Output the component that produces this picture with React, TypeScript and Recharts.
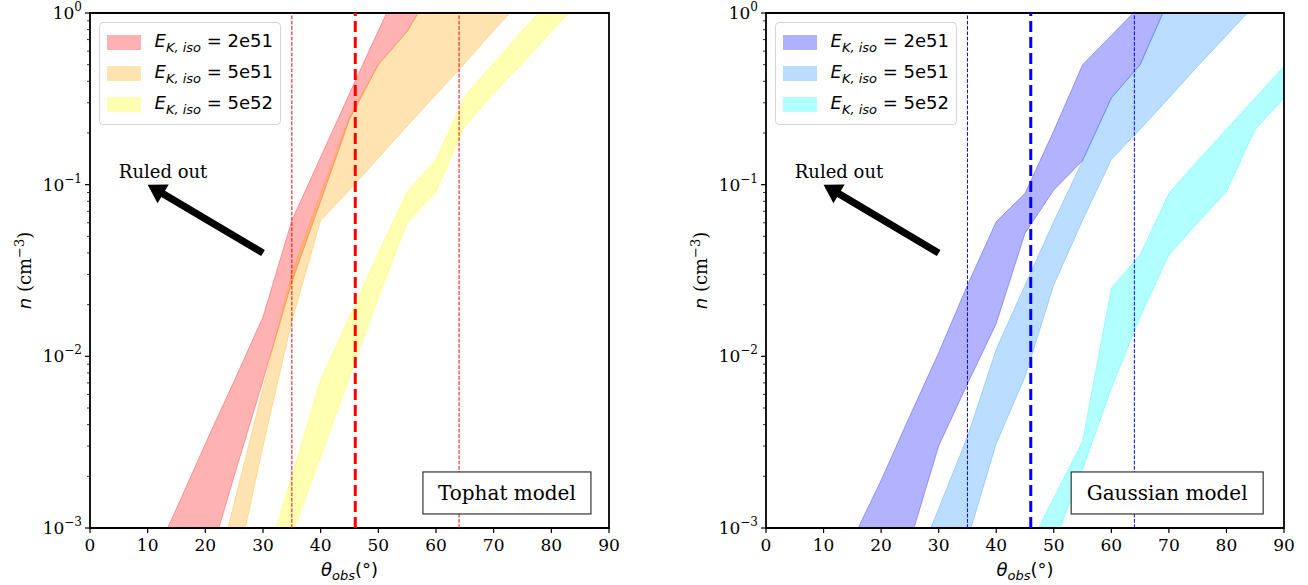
import React from "react";
import { ComposedChart, Area, XAxis, YAxis, ReferenceLine, ReferenceArea, ReferenceDot, Legend } from "recharts";

// energies shown in legend
const energyLabels = ["2e51", "5e51", "5e52"];

// axes
const xTicks = [0, 10, 20, 30, 40, 50, 60, 70, 80, 90];
const yMajorTicks = [0.001, 0.01, 0.1, 1];
const yMinorTicks = [
  0.002, 0.003, 0.004, 0.005, 0.006, 0.007, 0.008, 0.009,
  0.02, 0.03, 0.04, 0.05, 0.06, 0.07, 0.08, 0.09,
  0.2, 0.3, 0.4, 0.5, 0.6, 0.7, 0.8, 0.9,
];

// viewing angle constraints (deg)
const thetaLimits = [35, 64];
const thetaBest = 46;

// "Ruled out" arrow (theta, n)
const arrowTail = { theta: 30, n: 0.04 };
const arrowHead = { theta: 10, n: 0.1 };
const ruledOutAt = { theta: 5, n: 0.11 };

// ---- Tophat model ----
const tophatRedTheta = [10, 15, 20, 25, 30, 35, 40, 45, 50, 55, 60];
const tophatRedLow = [0.00004, 0.00015, 0.00054, 0.002, 0.0072, 0.027, 0.08, 0.24, 0.5, 0.78, 1.5];
const tophatRedHigh = [0.00056, 0.0013, 0.0031, 0.0072, 0.017, 0.062, 0.145, 0.34, 0.79, 1.8, 4];

const tophatOrangeTheta = [20, 25, 30, 35, 40, 45, 50, 55, 60, 65, 70, 75];
const tophatOrangeLow = [0.00009, 0.0005, 0.003, 0.016, 0.062, 0.093, 0.143, 0.22, 0.335, 0.51, 0.79, 1.2];
const tophatOrangeHigh = [0.0003, 0.0014, 0.0065, 0.031, 0.089, 0.25, 0.5, 0.78, 1.5, 3, 5, 8];

const tophatYellowTheta = [30, 35, 40, 45, 50, 55, 60, 65, 70, 75, 80, 85];
const tophatYellowLow = [0.0003, 0.0009, 0.0026, 0.0076, 0.022, 0.06, 0.091, 0.22, 0.34, 0.51, 0.78, 1.17];
const tophatYellowHigh = [0.00057, 0.002, 0.0073, 0.017, 0.04, 0.091, 0.14, 0.33, 0.51, 0.79, 1.2, 1.9];

// ---- Gaussian model ----
const gaussBlueTheta = [15, 20, 25, 30, 35, 40, 45, 50, 55, 60, 65, 70];
const gaussBlueLow = [0.00005, 0.0002, 0.00083, 0.003, 0.0069, 0.0155, 0.052, 0.093, 0.138, 0.32, 0.5, 1.2];
const gaussBlueHigh = [0.00085, 0.0019, 0.0045, 0.0105, 0.026, 0.061, 0.089, 0.206, 0.5, 0.74, 1.1, 2];

const gaussSkyTheta = [25, 30, 35, 40, 45, 50, 55, 60, 65, 70, 75, 80, 85];
const gaussSkyLow = [0.00008, 0.00025, 0.00085, 0.0031, 0.0076, 0.026, 0.062, 0.14, 0.21, 0.32, 0.49, 0.74, 1.12];
const gaussSkyHigh = [0.0005, 0.0013, 0.0034, 0.011, 0.026, 0.061, 0.138, 0.32, 0.5, 1.2, 2, 3, 5];

const gaussCyanTheta = [45, 50, 55, 60, 65, 70, 75, 80, 85, 90];
const gaussCyanLow = [0.0003, 0.0008, 0.0022, 0.0065, 0.017, 0.039, 0.06, 0.091, 0.21, 0.32];
const gaussCyanHigh = [0.0007, 0.0015, 0.0032, 0.025, 0.039, 0.089, 0.138, 0.21, 0.32, 0.49];

type Band = { theta: number[]; low: number[]; high: number[]; color: string };

const tophatBands: Band[] = [
  { theta: tophatRedTheta, low: tophatRedLow, high: tophatRedHigh, color: "#ff0000" },
  { theta: tophatOrangeTheta, low: tophatOrangeLow, high: tophatOrangeHigh, color: "#ffa500" },
  { theta: tophatYellowTheta, low: tophatYellowLow, high: tophatYellowHigh, color: "#ffff00" },
];
const gaussBands: Band[] = [
  { theta: gaussBlueTheta, low: gaussBlueLow, high: gaussBlueHigh, color: "#0000ff" },
  { theta: gaussSkyTheta, low: gaussSkyLow, high: gaussSkyHigh, color: "#1e90ff" },
  { theta: gaussCyanTheta, low: gaussCyanLow, high: gaussCyanHigh, color: "#00ffff" },
];

const toRows = (b: Band) => b.theta.map((t, i) => ({ theta: t, range: [b.low[i], b.high[i]] }));

const SERIF = "DejaVu Serif";
const SANS = "DejaVu Sans";

function XTick(props: any) {
  const { x, y, payload } = props;
  return (
    <g>
      <line x1={x} x2={x} y1={y} y2={y + 5} stroke="#000" strokeWidth={1.2} />
      <text x={x} y={y + 23} textAnchor="middle" fontFamily={SERIF} fontSize={17} fill="#000">
        {payload.value}
      </text>
    </g>
  );
}

function YTick(props: any) {
  const { x, y, payload } = props;
  const v = payload.value;
  const major = yMajorTicks.includes(v);
  const exp = Math.round(Math.log10(v));
  return (
    <g>
      <line x1={x - (major ? 5 : 3)} x2={x} y1={y} y2={y} stroke="#000" strokeWidth={major ? 1.2 : 0.8} />
      {major && (
        <text x={x - 8} y={y + 6} textAnchor="end" fontFamily={SERIF} fontSize={17} fill="#000">
          10
          <tspan dy={-8} fontSize={12}>{exp === 0 ? "0" : "\u2212" + -exp}</tspan>
        </text>
      )}
    </g>
  );
}

function XLabel(props: any) {
  const { x, y, width } = props.viewBox;
  return (
    <text x={x + width / 2} y={y + 48} textAnchor="middle" fontSize={18} fill="#000" fontFamily={SANS}>
      <tspan fontStyle="italic">θ</tspan>
      <tspan fontStyle="italic" fontSize={13} dy={4}>obs</tspan>
      <tspan dy={-4}>(°)</tspan>
    </text>
  );
}

function YLabel(props: any) {
  const { x, y, height } = props.viewBox;
  const cx = x + 31;
  const cy = y + height / 2;
  return (
    <text x={cx} y={cy} transform={`rotate(-90, ${cx}, ${cy})`} textAnchor="middle" fontSize={18} fill="#000">
      <tspan fontFamily={SANS} fontStyle="italic">n</tspan>
      <tspan fontFamily={SERIF}> (cm</tspan>
      <tspan fontFamily={SERIF} fontSize={13} dy={-7}>{"\u22123"}</tspan>
      <tspan fontFamily={SERIF} dy={7}>)</tspan>
    </text>
  );
}

function ArrowShape(props: any) {
  const { x1, y1, x2, y2 } = props;
  const dx = x2 - x1;
  const dy = y2 - y1;
  const len = Math.sqrt(dx * dx + dy * dy);
  const ux = dx / len;
  const uy = dy / len;
  const px = -uy;
  const py = ux;
  const shaft = 3.6;
  const headW = 11;
  const headL = 18;
  const bx = x2 - ux * headL;
  const by = y2 - uy * headL;
  const pts = [
    [x1 + px * shaft, y1 + py * shaft],
    [bx + px * shaft, by + py * shaft],
    [bx + px * headW, by + py * headW],
    [x2, y2],
    [bx - px * headW, by - py * headW],
    [bx - px * shaft, by - py * shaft],
    [x1 - px * shaft, y1 - py * shaft],
  ];
  return <polygon points={pts.map((p) => p.join(",")).join(" ")} fill="#000" />;
}

function RuledOut(props: any) {
  return (
    <text x={props.cx} y={props.cy} fontFamily={SERIF} fontSize={18} fill="#000">
      Ruled out
    </text>
  );
}

function makeModelBox(label: string, w: number) {
  return (props: any) => {
    const { cx, cy } = props;
    return (
      <g>
        <rect x={cx - w / 2} y={cy - 21} width={w} height={42} fill="#fff" stroke="#333" strokeWidth={1.2} />
        <text x={cx} y={cy + 7} textAnchor="middle" fontFamily={SERIF} fontSize={20} fill="#000">
          {label}
        </text>
      </g>
    );
  };
}

function BandLegend({ bands }: { bands: Band[] }) {
  return (
    <div
      style={{
        border: "1px solid #d6d6d6",
        borderRadius: 4,
        background: "rgba(255,255,255,0.8)",
        padding: "4px 7px",
        width: 166,
        boxSizing: "content-box",
      }}
    >
      {bands.map((b, i) => (
        <div key={i} style={{ display: "flex", alignItems: "center", height: 31 }}>
          <span
            style={{
              display: "inline-block",
              width: 36,
              height: 13,
              background: b.color,
              opacity: 0.3,
              border: `1px solid ${b.color}`,
            }}
          />
          <span style={{ marginLeft: 14, fontFamily: SANS, fontSize: 18, color: "#000", whiteSpace: "nowrap" }}>
            <i>E</i>
            <sub style={{ fontStyle: "italic", fontSize: 13 }}>K, iso</sub> = {energyLabels[i]}
          </span>
        </div>
      ))}
    </div>
  );
}

function Panel(props: {
  bands: Band[];
  lineColor: string;
  model: string;
  modelTheta: number;
  modelWidth: number;
  left: number;
  width: number;
  marginRight: number;
}) {
  const { bands, lineColor, model, modelTheta, modelWidth, left, width, marginRight } = props;
  return (
    <div style={{ position: "absolute", left, top: 0 }}>
      <ComposedChart width={width} height={585} margin={{ top: 13, right: marginRight, bottom: 0, left: 0 }}>
        <XAxis
          type="number"
          dataKey="theta"
          domain={[0, 90]}
          ticks={xTicks}
          interval={0}
          allowDataOverflow
          height={57}
          axisLine={false}
          tickLine={false}
          tickSize={0}
          tickMargin={0}
          tick={<XTick />}
          label={<XLabel />}
        />
        <YAxis
          type="number"
          scale="log"
          domain={[0.001, 1]}
          ticks={[...yMajorTicks, ...yMinorTicks]}
          interval={0}
          allowDataOverflow
          width={90}
          axisLine={false}
          tickLine={false}
          tickSize={0}
          tickMargin={0}
          tick={<YTick />}
          label={<YLabel />}
        />
        {bands.map((b, i) => (
          <Area
            key={i}
            data={toRows(b)}
            dataKey="range"
            type="linear"
            fill={b.color}
            fillOpacity={0.3}
            stroke={b.color}
            strokeOpacity={0.3}
            strokeWidth={1}
            dot={false}
            activeDot={false}
            isAnimationActive={false}
          />
        ))}
        {thetaLimits.map((t) => (
          <ReferenceLine key={t} x={t} stroke={lineColor} strokeWidth={1} strokeDasharray="3.7 1.6" />
        ))}
        <ReferenceLine x={thetaBest} stroke={lineColor} strokeWidth={3} strokeDasharray="11 5" />
        <ReferenceLine
          segment={[
            { x: arrowTail.theta, y: arrowTail.n },
            { x: arrowHead.theta, y: arrowHead.n },
          ]}
          shape={ArrowShape}
        />
        <ReferenceDot x={ruledOutAt.theta} y={ruledOutAt.n} r={0} shape={RuledOut} />
        <ReferenceDot x={modelTheta} y={0.0016} r={0} shape={makeModelBox(model, modelWidth)} />
        <ReferenceArea x1={0} x2={90} y1={0.001} y2={1} fill="none" stroke="#000" strokeWidth={1.8} />
        <Legend
          layout="horizontal"
          verticalAlign="middle"
          align="center"
          wrapperStyle={{ left: 99, top: 22, width: 182, height: 101 }}
          content={() => <BandLegend bands={bands} />}
        />
      </ComposedChart>
    </div>
  );
}

export default function App() {
  return (
    <div style={{ position: "absolute", left: 0, top: 0, width: 1308, height: 585, background: "#fff" }}>
      <Panel
        bands={tophatBands}
        lineColor="#ff0000"
        model="Tophat model"
        modelTheta={72.3}
        modelWidth={168}
        left={0}
        width={650}
        marginRight={41}
      />
      <Panel
        bands={gaussBands}
        lineColor="#0000ff"
        model="Gaussian model"
        modelTheta={69.7}
        modelWidth={192}
        left={676}
        width={632}
        marginRight={24}
      />
    </div>
  );
}
